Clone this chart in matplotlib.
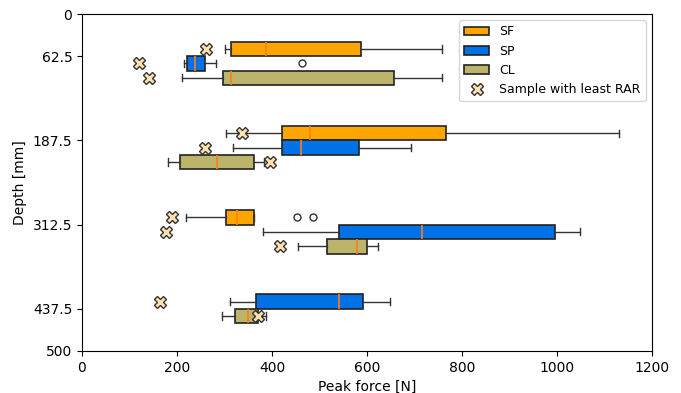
import matplotlib
matplotlib.use("Agg")
import matplotlib.pyplot as plt
from matplotlib.patches import Patch
from matplotlib.lines import Line2D

# depth layers [mm] and peak force box statistics [N] per root type
depths = [62.5, 187.5, 312.5, 437.5]

sf_depths = [62.5, 187.5, 312.5]
sf_whislo = [301, 303, 218]
sf_q1 = [314, 420, 303]
sf_med = [387, 481, 327]
sf_q3 = [588, 767, 362]
sf_whishi = [757, 1130, 362]
sf_fliers = [[], [], [453, 487]]
sf_least_rar = [262, 337, 189]

sp_depths = [62.5, 187.5, 312.5, 437.5]
sp_whislo = [214, 318, 380, 311]
sp_q1 = [220, 420, 541, 366]
sp_med = [238, 460, 716, 541]
sp_q3 = [258, 584, 996, 591]
sp_whishi = [282, 693, 1049, 649]
sp_fliers = [[463], [], [], []]
sp_least_rar = [120, 259, 177, 165]

cl_depths = [62.5, 187.5, 312.5, 437.5]
cl_whislo = [211, 180, 454, 295]
cl_q1 = [297, 207, 515, 323]
cl_med = [313, 284, 578, 349]
cl_q3 = [657, 362, 601, 370]
cl_whishi = [758, 384, 624, 388]
cl_fliers = [[], [], [], []]
cl_least_rar = [141, 395, 416, 370]

series = [
    ("SF", "#FFA500", sf_depths, sf_whislo, sf_q1, sf_med, sf_q3, sf_whishi, sf_fliers, sf_least_rar),
    ("SP", "#0072E6", sp_depths, sp_whislo, sp_q1, sp_med, sp_q3, sp_whishi, sp_fliers, sp_least_rar),
    ("CL", "#BDB46B", cl_depths, cl_whislo, cl_q1, cl_med, cl_q3, cl_whishi, cl_fliers, cl_least_rar),
]

BOX_W = 21.5

# count which types are present in each layer so boxes stack below the tick
present = {d: [name for name, *_rest in series if d in _rest[1]] for d in depths}

fig = plt.figure(figsize=(6.81, 3.93), dpi=100)
ax = fig.add_axes([82 / 681, 1 - 351 / 393, (652 - 82) / 681, (351 - 14) / 393])

handles = []
for name, color, dd, wl, q1, md, q3, wh, fl, least in series:
    stats = []
    pos = []
    for i, d in enumerate(dd):
        slot = present[d].index(name)
        pos.append(d + BOX_W * (slot - 0.5))
        stats.append(dict(whislo=wl[i], q1=q1[i], med=md[i], q3=q3[i],
                          whishi=wh[i], fliers=fl[i]))
    ax.bxp(stats, positions=pos, widths=BOX_W, vert=False, patch_artist=True,
           manage_ticks=False,
           boxprops=dict(facecolor=color, edgecolor="#222222", linewidth=1.2),
           medianprops=dict(color="#FF7F0E", linewidth=1.2),
           whiskerprops=dict(color="#333333", linewidth=1.0),
           capprops=dict(color="#333333", linewidth=1.0),
           flierprops=dict(marker="o", markerfacecolor="none",
                           markeredgecolor="#333333", markersize=5))
    ax.plot(least, pos, linestyle="none", marker="X", markersize=9,
            markerfacecolor="#FFE1B0", markeredgecolor="#333333",
            markeredgewidth=1.0, zorder=5)
    handles.append(Patch(facecolor=color, edgecolor="#222222", linewidth=1.2, label=name))

handles.append(Line2D([], [], linestyle="none", marker="X", markersize=9,
                      markerfacecolor="#FFE1B0", markeredgecolor="#333333",
                      label="Sample with least RAR"))

ax.set_xlim(0, 1200)
ax.set_ylim(500, 0)
ax.set_yticks([0] + depths + [500])
ax.set_yticklabels(["0", "62.5", "187.5", "312.5", "437.5", "500"])
ax.set_xticks(range(0, 1201, 200))
ax.tick_params(labelsize=10)
ax.set_xlabel("Peak force [N]", fontsize=10)
ax.set_ylabel("Depth [mm]", fontsize=10)
ax.legend(handles=handles, loc="upper right", fontsize=9)

fig.savefig("out.png", dpi=100)
